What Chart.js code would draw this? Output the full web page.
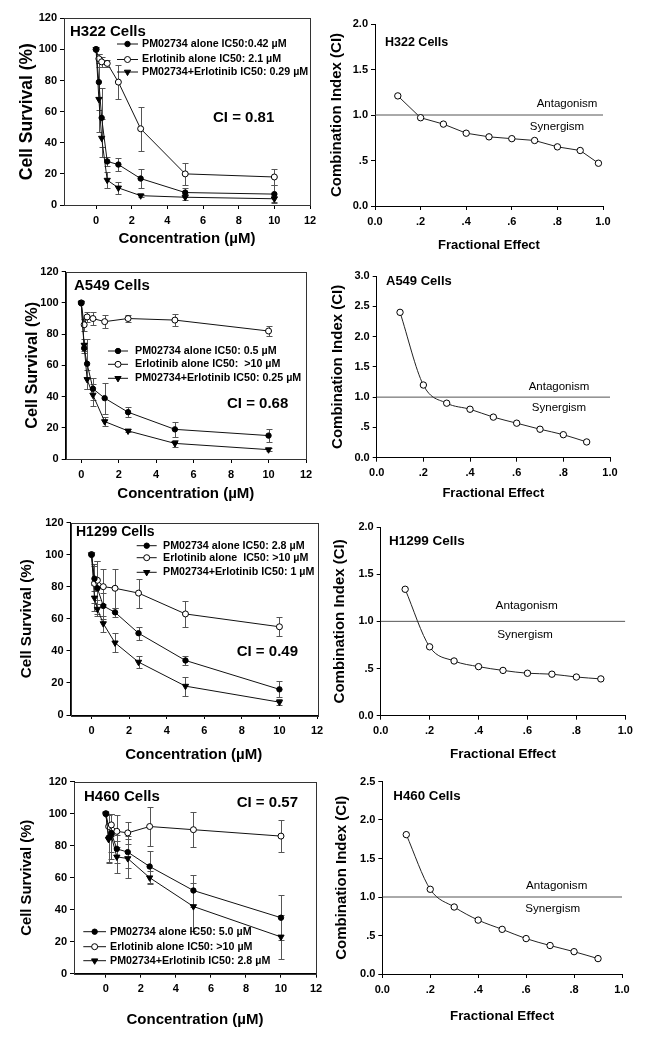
<!DOCTYPE html>
<html lang="en">
<head>
<meta charset="UTF-8">
<title>PM02734 + Erlotinib</title>
<script src="https://cdn.jsdelivr.net/npm/chart.js"></script>
<style>
    body {
        margin: 0;
        background: #fff;
        width: 645px;
        height: 1050px;
        position: relative;
        overflow: hidden;
    }
    canvas {
        position: absolute;
    }
</style>
</head>
<body>
<canvas id="l1"></canvas>
<canvas id="r1"></canvas>
<canvas id="l2"></canvas>
<canvas id="r2"></canvas>
<canvas id="l3"></canvas>
<canvas id="r3"></canvas>
<canvas id="l4"></canvas>
<canvas id="r4"></canvas>

<script>
// concentrations (µM) and axis ticks
const conc = [0, 0.156, 0.3125, 0.625, 1.25, 2.5, 5, 10];
const concTicks = [0, 2, 4, 6, 8, 10, 12];
const survivalTicks = [0, 20, 40, 60, 80, 100, 120];

// H322
const h322Labels = ['PM02734 alone IC50:0.42 µM', 'Erlotinib alone IC50: 2.1 µM', 'PM02734+Erlotinib IC50: 0.29 µM'];
const h322Pm = [100, 79, 56, 28, 26, 17, 8, 7];
const h322PmErr = [0, 18, 19, 3, 4, 6, 3, 6];
const h322Erl = [100, 94, 92, 91, 79, 49, 20, 18];
const h322ErlErr = [0, 3, 3, 2, 11, 14, 7, 5];
const h322Combo = [100, 68, 43, 16, 11, 6, 5, 4];
const h322ComboErr = [0, 21, 12, 5, 4, 1, 2, 2];

// A549
const a549Labels = ['PM02734 alone IC50: 0.5 µM', 'Erlotinib alone IC50:  >10 µM', 'PM02734+Erlotinib IC50: 0.25 µM'];
const a549Pm = [100, 71, 61, 45, 39, 30, 19, 15];
const a549PmErr = [0, 3, 16, 7, 10, 3, 5, 4];
const a549Erl = [100, 86, 91, 90, 88, 90, 89, 82];
const a549ErlErr = [0, 4, 3, 4, 4, 2, 4, 3];
const a549Combo = [100, 73, 51, 41, 24, 18, 10, 6];
const a549ComboErr = [0, 4, 6, 7, 3, 1, 2, 1];

// H1299
const h1299Labels = ['PM02734 alone IC50: 2.8 µM', 'Erlotinib alone  IC50: >10 µM', 'PM02734+Erlotinib IC50: 1 µM'];
const h1299Pm = [100, 85, 79, 68, 64, 51, 34, 16];
const h1299PmErr = [0, 8, 17, 8, 3, 4, 3, 5];
const h1299Erl = [100, 82, 84, 80, 79, 76, 63, 55];
const h1299ErlErr = [0, 12, 12, 11, 12, 9, 8, 6];
const h1299Combo = [100, 73, 66, 57, 45, 33, 18, 8];
const h1299ComboErr = [0, 8, 3, 5, 6, 4, 6, 2];

// H460
const h460Labels = ['PM02734 alone IC50: 5.0 µM', 'Erlotinib alone IC50: >10 µM', 'PM02734+Erlotinib IC50: 2.8 µM'];
const h460Pm = [100, 85, 88, 78, 76, 67, 52, 35];
const h460PmErr = [0, 15, 12, 9, 10, 10, 10, 14];
const h460Erl = [100, 92, 93, 89, 88, 92, 90, 86];
const h460ErlErr = [0, 8, 7, 10, 7, 12, 11, 10];
const h460Combo = [100, 84, 86, 73, 72, 60, 42, 23];
const h460ComboErr = [0, 15, 14, 10, 12, 4, 15, 14];

// combination index vs fractional effect
const faTicks = [0, 0.2, 0.4, 0.6, 0.8, 1.0];
const faTickLabels = ['0.0', '.2', '.4', '.6', '.8', '1.0'];
const faH322 = [0.1, 0.2, 0.3, 0.4, 0.5, 0.6, 0.7, 0.8, 0.9, 0.98];
const fa = [0.1, 0.2, 0.3, 0.4, 0.5, 0.6, 0.7, 0.8, 0.9];
const ciH322 = [1.21, 0.97, 0.90, 0.80, 0.76, 0.74, 0.72, 0.65, 0.61, 0.47];
const ciA549 = [2.4, 1.2, 0.9, 0.8, 0.67, 0.57, 0.47, 0.38, 0.26];
const ciH1299 = [1.34, 0.73, 0.58, 0.52, 0.48, 0.45, 0.44, 0.41, 0.39];
const ciH460 = [1.81, 1.10, 0.87, 0.70, 0.58, 0.46, 0.37, 0.29, 0.20];
const ciThreshold = 1.0;
const ciTicks2 = [0, 0.5, 1, 1.5, 2];
const ciTickLabels2 = ['0.0', '.5', '1.0', '1.5', '2.0'];
const ciTicks25 = [0, 0.5, 1, 1.5, 2, 2.5];
const ciTickLabels25 = ['0.0', '.5', '1.0', '1.5', '2.0', '2.5'];
const ciTicks3 = [0, 0.5, 1, 1.5, 2, 2.5, 3];
const ciTickLabels3 = ['0.0', '.5', '1.0', '1.5', '2.0', '2.5', '3.0'];

const FONT = "'Liberation Sans', Arial, Helvetica, sans-serif";

function toPoints(xs, ys) {
    return xs.map((x, i) => ({ x: x, y: ys[i] }));
}

// error bars drawn under the lines and markers
const errorBars = {
    id: 'errorBars',
    beforeDatasetsDraw(chart) {
        const ctx = chart.ctx, xs = chart.scales.x, ys = chart.scales.y;
        ctx.save();
        ctx.strokeStyle = '#555';
        ctx.lineWidth = 1;
        chart.data.datasets.forEach(ds => {
            if (!ds.errors) return;
            ds.data.forEach((p, i) => {
                const e = ds.errors[i];
                if (!e) return;
                const x = Math.round(xs.getPixelForValue(p.x)) + 0.5;
                const y1 = Math.round(ys.getPixelForValue(p.y - e)) + 0.5;
                const y2 = Math.round(ys.getPixelForValue(p.y + e)) + 0.5;
                ctx.beginPath();
                ctx.moveTo(x, y1); ctx.lineTo(x, y2);
                ctx.moveTo(x - 3, y1); ctx.lineTo(x + 3, y1);
                ctx.moveTo(x - 3, y2); ctx.lineTo(x + 3, y2);
                ctx.stroke();
            });
        });
        ctx.restore();
    }
};

// texts, inset legend and frame for one panel
function notes(p) {
    return {
        id: 'notes',
        afterDraw(chart) {
            const ctx = chart.ctx, ox = p.canvas.x, oy = p.canvas.y;
            ctx.save();
            ctx.textBaseline = 'middle';
            ctx.fillStyle = '#000';
            (p.texts || []).forEach(t => {
                ctx.font = t.font;
                ctx.textAlign = t.align || 'left';
                ctx.fillText(t.text, t.x - ox, t.y - oy);
            });
            if (p.legend) {
                const L = p.legend;
                chart.data.datasets.forEach((ds, i) => {
                    const y = L.y[i] - oy;
                    ctx.strokeStyle = '#111';
                    ctx.lineWidth = 1;
                    ctx.beginPath();
                    ctx.moveTo(L.x1 - ox, y);
                    ctx.lineTo(L.x2 - ox, y);
                    ctx.stroke();
                    ctx.fillStyle = ds.pointBackgroundColor;
                    ctx.strokeStyle = '#000';
                    Chart.helpers.drawPoint(ctx, {
                        pointStyle: ds.pointStyle,
                        rotation: ds.pointRotation || 0,
                        radius: ds.pointRadius,
                        borderWidth: 1
                    }, (L.x1 + L.x2) / 2 - ox, y);
                    ctx.fillStyle = '#000';
                    ctx.font = 'bold 10.7px ' + FONT;
                    ctx.textAlign = 'left';
                    ctx.fillText(ds.label, L.tx - ox, y);
                });
            }
            if (p.frame) {
                const a = chart.chartArea;
                ctx.strokeStyle = '#333';
                ctx.lineWidth = 1;
                ctx.strokeRect(Math.round(a.left) + 0.5, Math.round(a.top) + 0.5,
                    Math.round(a.right - a.left), Math.round(a.bottom - a.top));
            }
            ctx.restore();
        }
    };
}

function survivalSets(labels, pm, pmErr, erl, erlErr, combo, comboErr) {
    const base = { showLine: true, borderColor: '#111', borderWidth: 1, tension: 0,
        pointBorderColor: '#000', pointBorderWidth: 1 };
    return [
        Object.assign({}, base, { label: labels[0], data: toPoints(conc, pm), errors: pmErr,
            pointStyle: 'circle', pointRadius: 2.7, pointBackgroundColor: '#000' }),
        Object.assign({}, base, { label: labels[1], data: toPoints(conc, erl), errors: erlErr,
            pointStyle: 'circle', pointRadius: 3, pointBackgroundColor: '#fff' }),
        Object.assign({}, base, { label: labels[2], data: toPoints(conc, combo), errors: comboErr,
            pointStyle: 'triangle', pointRotation: 180, pointRadius: 3.6, pointBackgroundColor: '#000' })
    ];
}

function ciSets(xs, ci, smooth) {
    return [
        { label: 'CI', data: toPoints(xs, ci), showLine: true, borderColor: '#222', borderWidth: 1,
          tension: smooth ? 0.4 : 0, cubicInterpolationMode: smooth ? 'monotone' : 'default',
          pointStyle: 'circle', pointRadius: 3.2, pointBackgroundColor: '#fff',
          pointBorderColor: '#000', pointBorderWidth: 1 },
        { label: 'threshold', data: [{ x: faTicks[0], y: ciThreshold }, { x: faTicks[faTicks.length - 1], y: ciThreshold }],
          showLine: true, borderColor: '#555', borderWidth: 1, pointRadius: 0 }
    ];
}

const boldTitle = (s) => 'bold ' + s + 'px ' + FONT;
const plainTitle = (s) => s + 'px ' + FONT;

const panels = [
    { id: 'l1', canvas: { x: 0, y: 6, w: 330, h: 246 }, area: { l: 64, t: 18.3, r: 310, b: 205 },
      x: { min: -1.8, max: 12, ticks: concTicks, labels: concTicks.map(String), title: 'Concentration (µM)', size: 15, pos: 239 },
      y: { min: 0, max: 120, ticks: survivalTicks, labels: survivalTicks.map(String), title: 'Cell Survival (%)', size: 17.5, pos: 27 },
      datasets: survivalSets(h322Labels, h322Pm, h322PmErr, h322Erl, h322ErlErr, h322Combo, h322ComboErr),
      texts: [{ text: 'H322 Cells', x: 70, y: 32, font: boldTitle(15) },
              { text: 'CI = 0.81', x: 213, y: 118, font: boldTitle(15) }],
      legend: { y: [44, 59.5, 72], x1: 117, x2: 138, tx: 142 }, frame: true },
    { id: 'r1', canvas: { x: 325, y: 12, w: 320, h: 246 }, area: { l: 375, t: 24, r: 603, b: 206 },
      x: { min: 0, max: 1, ticks: faTicks, labels: faTickLabels, title: 'Fractional Effect', size: 13, pos: 245 },
      y: { min: 0, max: 2, ticks: ciTicks2, labels: ciTickLabels2, title: 'Combination Index (CI)', size: 15, pos: 337 },
      datasets: ciSets(faH322, ciH322, false),
      texts: [{ text: 'H322 Cells', x: 385, y: 43, font: boldTitle(12.5) },
              { text: 'Antagonism', x: 567, y: 104, font: plainTitle(11.5), align: 'center' },
              { text: 'Synergism', x: 557, y: 127, font: plainTitle(11.5), align: 'center' }] },
    { id: 'l2', canvas: { x: 0, y: 259, w: 330, h: 247 }, area: { l: 65.7, t: 271.7, r: 306, b: 459 },
      x: { min: -0.83, max: 12, ticks: concTicks, labels: concTicks.map(String), title: 'Concentration (µM)', size: 15, pos: 493.7 },
      y: { min: 0, max: 120, ticks: survivalTicks, labels: survivalTicks.map(String), title: 'Cell Survival (%)', size: 16.2, pos: 33 },
      datasets: survivalSets(a549Labels, a549Pm, a549PmErr, a549Erl, a549ErlErr, a549Combo, a549ComboErr),
      texts: [{ text: 'A549 Cells', x: 74, y: 285.7, font: boldTitle(15) },
              { text: 'CI = 0.68', x: 227, y: 404, font: boldTitle(15) }],
      legend: { y: [351, 364.3, 378.3], x1: 108, x2: 128, tx: 135 }, frame: true },
    { id: 'r2', canvas: { x: 325, y: 264, w: 320, h: 242 }, area: { l: 376.7, t: 276, r: 610, b: 457.7 },
      x: { min: 0, max: 1, ticks: faTicks, labels: faTickLabels, title: 'Fractional Effect', size: 13, pos: 493 },
      y: { min: 0, max: 3, ticks: ciTicks3, labels: ciTickLabels3, title: 'Combination Index (CI)', size: 15, pos: 338 },
      datasets: ciSets(fa, ciA549, true),
      texts: [{ text: 'A549 Cells', x: 386, y: 281.7, font: boldTitle(13) },
              { text: 'Antagonism', x: 559, y: 387, font: plainTitle(11.5), align: 'center' },
              { text: 'Synergism', x: 559, y: 408, font: plainTitle(11.5), align: 'center' }] },
    { id: 'l3', canvas: { x: 0, y: 510, w: 330, h: 258 }, area: { l: 70.5, t: 522.5, r: 317, b: 715 },
      x: { min: -1.12, max: 12, ticks: concTicks, labels: concTicks.map(String), title: 'Concentration (µM)', size: 15, pos: 755 },
      y: { min: 0, max: 120, ticks: survivalTicks, labels: survivalTicks.map(String), title: 'Cell Survival (%)', size: 15.2, pos: 26.7 },
      datasets: survivalSets(h1299Labels, h1299Pm, h1299PmErr, h1299Erl, h1299ErlErr, h1299Combo, h1299ComboErr),
      texts: [{ text: 'H1299 Cells', x: 76, y: 531.7, font: boldTitle(14) },
              { text: 'CI = 0.49', x: 236.7, y: 651.7, font: boldTitle(15) }],
      legend: { y: [545.7, 557.7, 572.3], x1: 136.7, x2: 156.7, tx: 163 }, frame: true },
    { id: 'r3', canvas: { x: 325, y: 515, w: 320, h: 253 }, area: { l: 380.7, t: 527, r: 625.3, b: 715.7 },
      x: { min: 0, max: 1, ticks: faTicks, labels: faTickLabels, title: 'Fractional Effect', size: 13.5, pos: 754 },
      y: { min: 0, max: 2, ticks: ciTicks2, labels: ciTickLabels2, title: 'Combination Index (CI)', size: 15, pos: 340 },
      datasets: ciSets(fa, ciH1299, true),
      texts: [{ text: 'H1299 Cells', x: 389, y: 541, font: boldTitle(13.5) },
              { text: 'Antagonism', x: 526.7, y: 606, font: plainTitle(11.8), align: 'center' },
              { text: 'Synergism', x: 525, y: 635, font: plainTitle(11.8), align: 'center' }] },
    { id: 'l4', canvas: { x: 0, y: 769, w: 330, h: 265 }, area: { l: 74, t: 781.7, r: 316, b: 973.7 },
      x: { min: -1.82, max: 12, ticks: concTicks, labels: concTicks.map(String), title: 'Concentration (µM)', size: 15, pos: 1020 },
      y: { min: 0, max: 120, ticks: survivalTicks, labels: survivalTicks.map(String), title: 'Cell Survival (%)', size: 14.8, pos: 27 },
      datasets: survivalSets(h460Labels, h460Pm, h460PmErr, h460Erl, h460ErlErr, h460Combo, h460ComboErr),
      texts: [{ text: 'H460 Cells', x: 84, y: 797.3, font: boldTitle(15) },
              { text: 'CI = 0.57', x: 236.7, y: 803.3, font: boldTitle(15) }],
      legend: { y: [931.7, 946.7, 960.7], x1: 83.3, x2: 106, tx: 110 }, frame: true },
    { id: 'r4', canvas: { x: 325, y: 769, w: 320, h: 265 }, area: { l: 382.3, t: 781.5, r: 622, b: 974 },
      x: { min: 0, max: 1, ticks: faTicks, labels: faTickLabels, title: 'Fractional Effect', size: 13.3, pos: 1016.7 },
      y: { min: 0, max: 2.5, ticks: ciTicks25, labels: ciTickLabels25, title: 'Combination Index (CI)', size: 15, pos: 341.7 },
      datasets: ciSets(fa, ciH460, true),
      texts: [{ text: 'H460 Cells', x: 393.3, y: 796.7, font: boldTitle(13.3) },
              { text: 'Antagonism', x: 556.7, y: 886, font: plainTitle(11.6), align: 'center' },
              { text: 'Synergism', x: 552.7, y: 909, font: plainTitle(11.6), align: 'center' }] }
];

function axis(spec, fitSize, isX, titlePad) {
    return {
        type: 'linear',
        min: spec.min,
        max: spec.max,
        afterBuildTicks: s => { s.ticks = spec.ticks.map(v => ({ value: v })); },
        afterFit: s => { if (isX) s.height = fitSize; else s.width = fitSize; },
        ticks: {
            autoSkip: false, maxRotation: 0, minRotation: 0,
            padding: isX ? 5 : 3,
            color: '#000',
            font: { family: FONT, size: 11, weight: 'bold' },
            callback: (v, i) => spec.labels[i]
        },
        grid: { display: true, drawOnChartArea: false, drawTicks: true, tickLength: 4, color: '#000' },
        border: { display: true, color: '#000', width: 1 },
        title: {
            display: true, text: spec.title, color: '#000',
            font: { family: FONT, size: spec.size, weight: 'bold', lineHeight: 1.2 },
            padding: titlePad
        }
    };
}

panels.forEach(p => {
    const cv = document.getElementById(p.id);
    cv.width = p.canvas.w;
    cv.height = p.canvas.h;
    cv.style.left = p.canvas.x + 'px';
    cv.style.top = p.canvas.y + 'px';

    const xH = p.canvas.y + p.canvas.h - p.area.b;
    const yW = p.area.l - p.canvas.x;
    const xPad = { top: 0, bottom: p.canvas.y + p.canvas.h - p.x.pos - p.x.size * 0.6 };
    const yPad = { top: p.y.pos - p.canvas.x - p.y.size * 0.6, bottom: 0 };

    new Chart(cv.getContext('2d'), {
        type: 'scatter',
        data: { datasets: p.datasets },
        options: {
            responsive: false,
            animation: false,
            layout: { padding: { left: 0, top: p.area.t - p.canvas.y, right: p.canvas.x + p.canvas.w - p.area.r, bottom: 0 } },
            plugins: { legend: { display: false }, tooltip: { enabled: false } },
            scales: {
                x: axis(p.x, xH, true, xPad),
                y: axis(p.y, yW, false, yPad)
            }
        },
        plugins: [errorBars, notes(p)]
    });
});
</script>
</body>
</html>
